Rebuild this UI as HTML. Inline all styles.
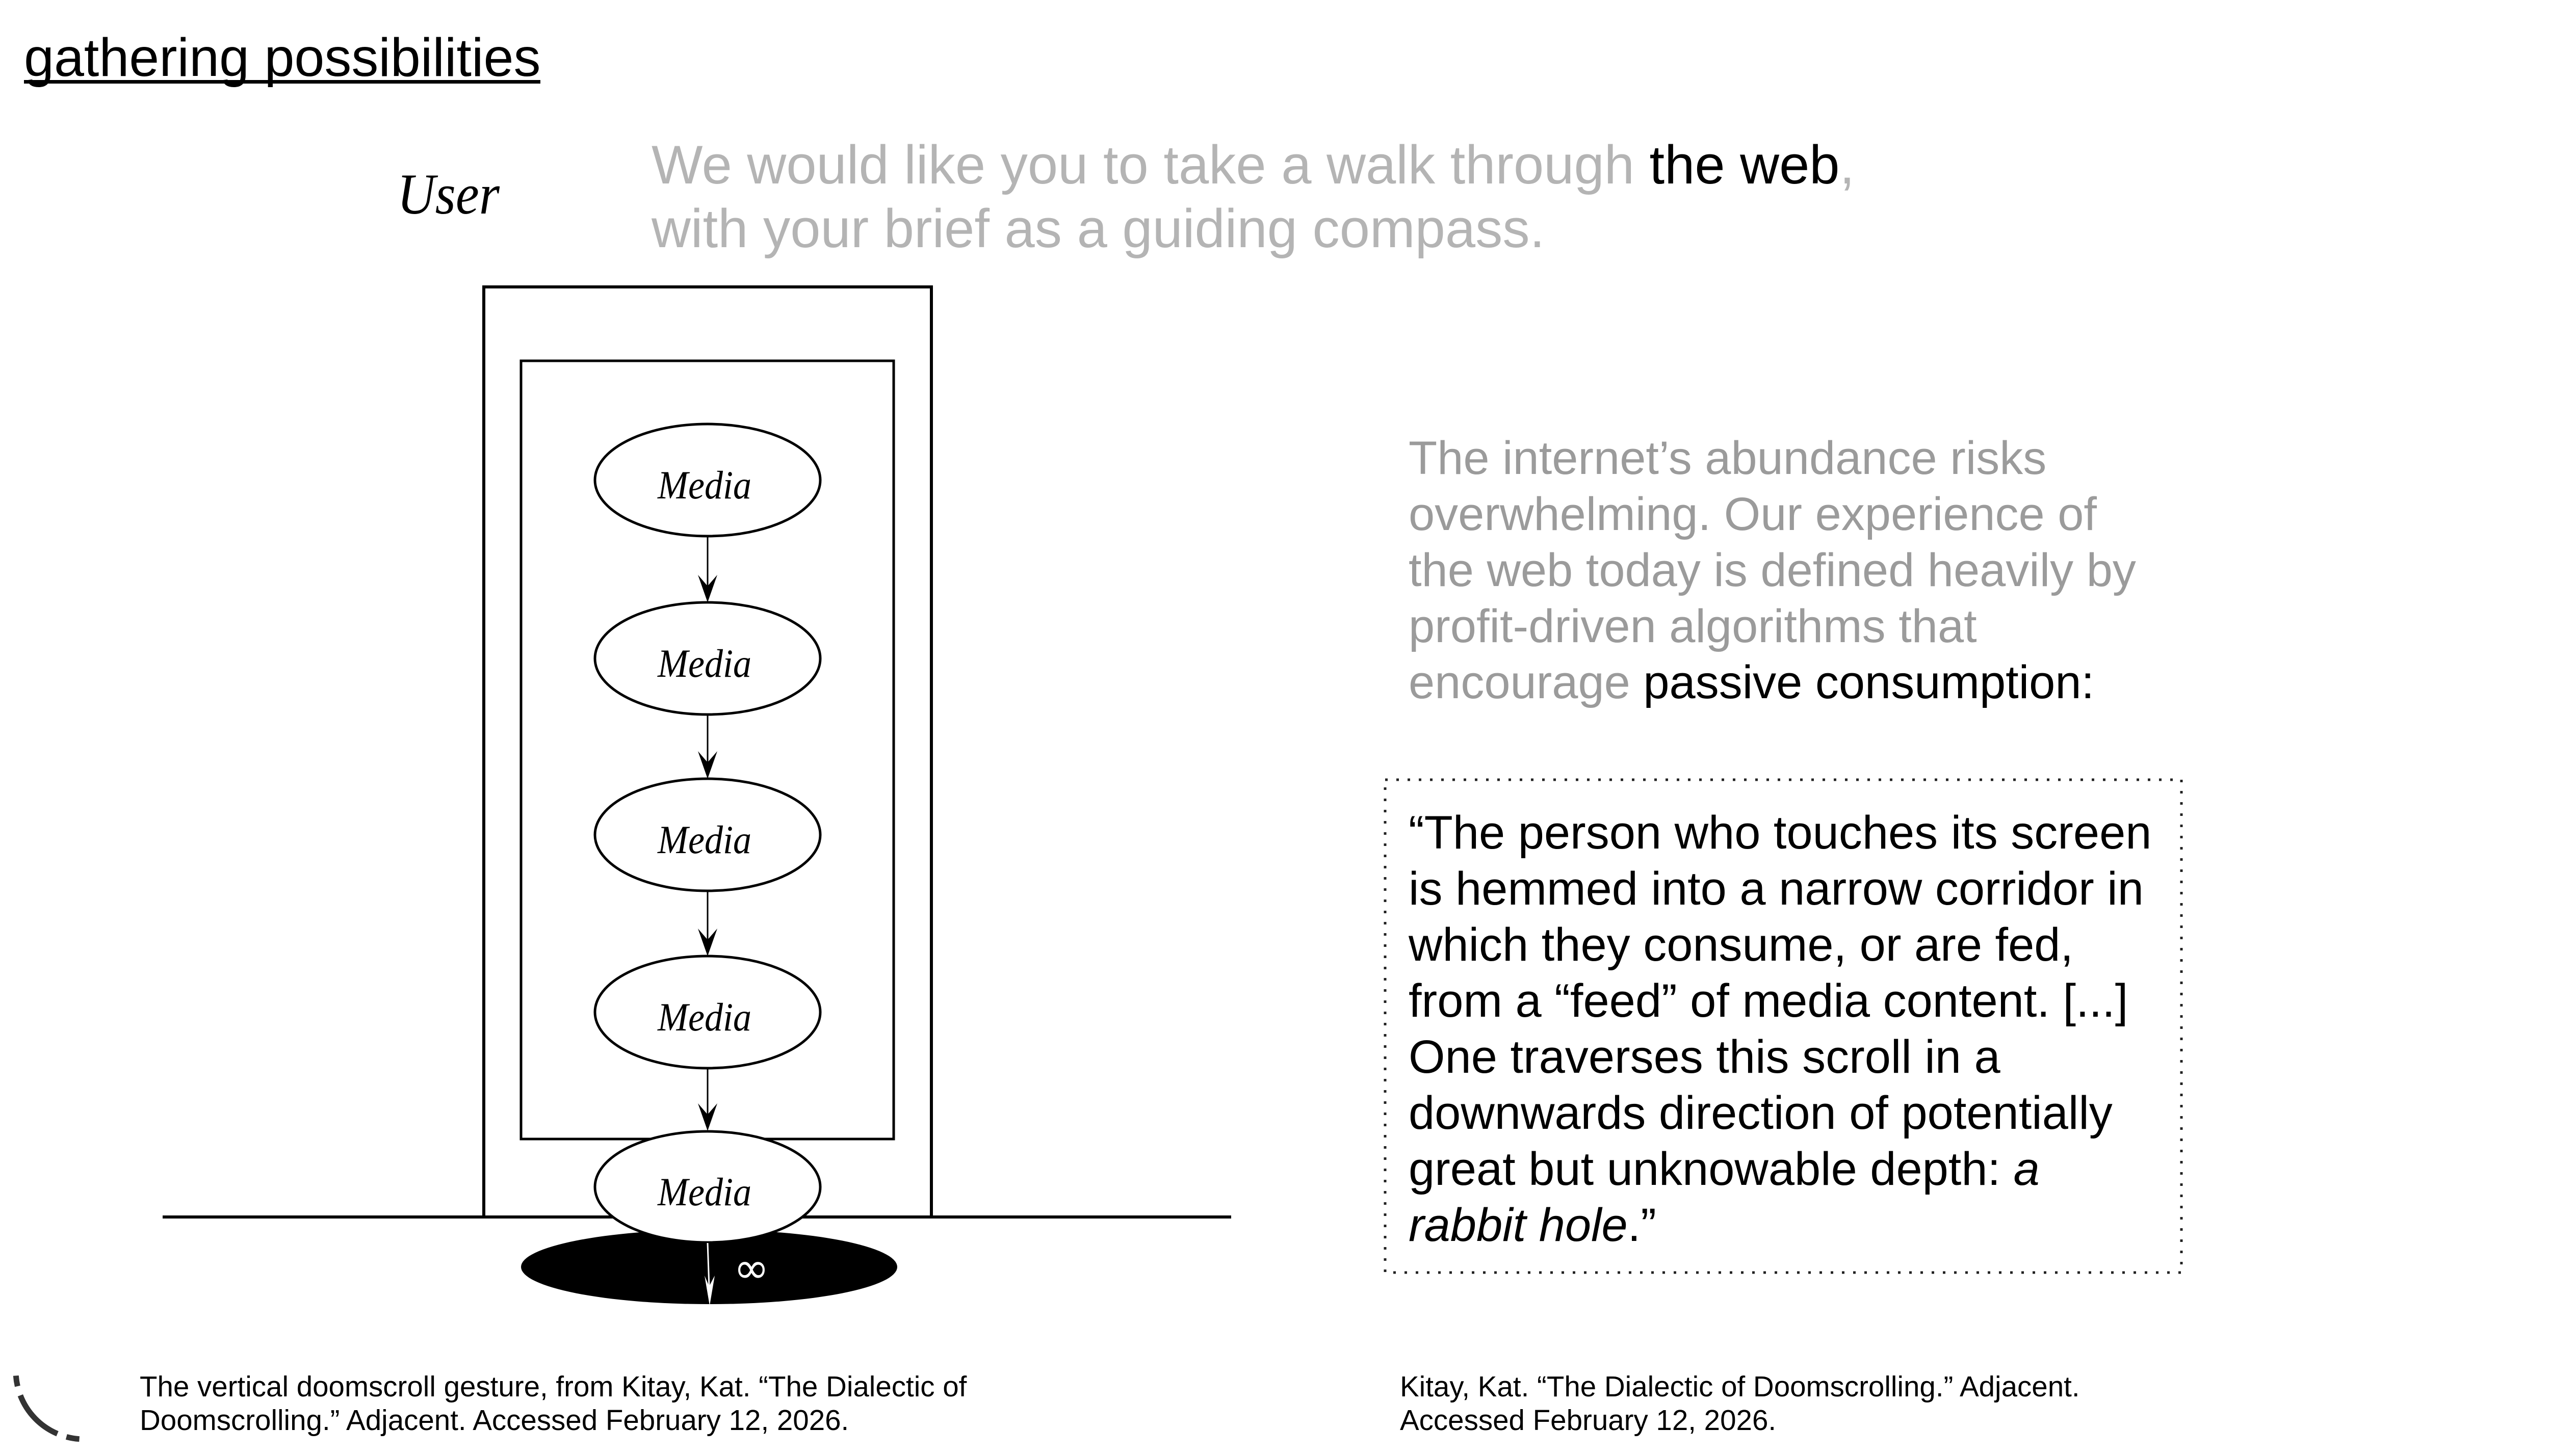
<!DOCTYPE html>
<html>
<head>
<meta charset="utf-8">
<style>
  html, body { margin: 0; padding: 0; background: #ffffff; }
  body { width: 5080px; height: 2857px; overflow: hidden; }
  svg { display: block; }
  .sans { font-family: "Liberation Sans", Arial, sans-serif; }
  .serif { font-family: "Liberation Serif", "Times New Roman", serif; }
</style>
</head>
<body>
<svg width="5080" height="2857" viewBox="0 0 5080 2857" xmlns="http://www.w3.org/2000/svg">
  <rect x="0" y="0" width="5080" height="2857" fill="#ffffff"/>

  <!-- Title -->
  <text class="sans" x="47" y="149" font-size="106" fill="#000">gathering possibilities</text>
  <rect x="47" y="157" width="1013" height="7" fill="#000"/>

  <!-- User label -->
  <text class="serif" x="779" y="419" font-size="113" font-style="italic" fill="#000" textLength="201" lengthAdjust="spacingAndGlyphs">User</text>

  <!-- Top paragraph -->
  <text class="sans" font-size="106.5" fill="#b4b4b4">
    <tspan x="1278" y="360">We would like you to take a walk through <tspan fill="#000">the web</tspan>,</tspan>
    <tspan x="1278" y="485">with your brief as a guiding compass.</tspan>
  </text>

  <!-- Diagram -->
  <g stroke="#000" fill="none">
    <!-- outer frame (open at bottom) -->
    <polyline points="949,2388 949,563 1827,563 1827,2388" stroke-width="6"/>
    <!-- inner frame -->
    <rect x="1022" y="708" width="731" height="1527" stroke-width="5"/>
    <!-- ground line -->
    <line x1="319" y1="2388" x2="2415" y2="2388" stroke-width="6"/>
  </g>

  <!-- black hole -->
  <ellipse cx="1391" cy="2486" rx="369" ry="73" fill="#000"/>

  <!-- arrows between media nodes -->
  <g stroke="#000" stroke-width="3">
    <line x1="1388" y1="1052" x2="1388" y2="1160"/>
    <line x1="1388" y1="1402" x2="1388" y2="1506"/>
    <line x1="1388" y1="1748" x2="1388" y2="1854"/>
    <line x1="1388" y1="2096" x2="1388" y2="2197"/>
  </g>
  <g fill="#000">
    <polygon points="1388,1182 1369,1128 1388,1150 1407,1128"/>
    <polygon points="1388,1528 1369,1474 1388,1496 1407,1474"/>
    <polygon points="1388,1876 1369,1822 1388,1844 1407,1822"/>
    <polygon points="1388,2219 1369,2165 1388,2187 1407,2165"/>
  </g>

  <!-- media nodes -->
  <g fill="#fff" stroke="#000" stroke-width="5">
    <ellipse cx="1388" cy="942" rx="221" ry="110"/>
    <ellipse cx="1388" cy="1292" rx="221" ry="110"/>
    <ellipse cx="1388" cy="1638" rx="221" ry="110"/>
    <ellipse cx="1388" cy="1986" rx="221" ry="110"/>
    <ellipse cx="1388" cy="2329" rx="221" ry="109"/>
  </g>
  <g class="serif" font-size="78" font-style="italic" fill="#000">
    <text x="1290" y="978" textLength="184" lengthAdjust="spacingAndGlyphs">Media</text>
    <text x="1290" y="1328" textLength="184" lengthAdjust="spacingAndGlyphs">Media</text>
    <text x="1290" y="1674" textLength="184" lengthAdjust="spacingAndGlyphs">Media</text>
    <text x="1290" y="2022" textLength="184" lengthAdjust="spacingAndGlyphs">Media</text>
    <text x="1290" y="2365" textLength="184" lengthAdjust="spacingAndGlyphs">Media</text>
  </g>

  <!-- white arrow into hole -->
  <line x1="1388" y1="2439" x2="1391" y2="2525" stroke="#fff" stroke-width="3"/>
  <polygon points="1392,2562 1382,2503 1391,2524 1402,2503" fill="#fff"/>
  <text x="1474" y="2517" font-family="DejaVu Sans, Liberation Sans, sans-serif" font-size="84" fill="#fff" text-anchor="middle">∞</text>

  <!-- Right paragraph -->
  <text class="sans" font-size="92" fill="#9b9b9b">
    <tspan x="2763" y="930">The internet’s abundance risks</tspan>
    <tspan x="2763" y="1040">overwhelming. Our experience of</tspan>
    <tspan x="2763" y="1150">the web today is defined heavily by</tspan>
    <tspan x="2763" y="1260">profit-driven algorithms that</tspan>
    <tspan x="2763" y="1370">encourage <tspan fill="#000">passive consumption:</tspan></tspan>
  </text>

  <!-- Dotted quote box -->
  <rect x="2717" y="1530" width="1562" height="967" fill="none" stroke="#222" stroke-width="5" stroke-dasharray="5 17"/>

  <text class="sans" font-size="92" fill="#000">
    <tspan x="2763" y="1665">“The person who touches its screen</tspan>
    <tspan x="2763" y="1775">is hemmed into a narrow corridor in</tspan>
    <tspan x="2763" y="1885">which they consume, or are fed,</tspan>
    <tspan x="2763" y="1995">from a “feed” of media content. [...]</tspan>
    <tspan x="2763" y="2105">One traverses this scroll in a</tspan>
    <tspan x="2763" y="2215">downwards direction of potentially</tspan>
    <tspan x="2763" y="2325">great but unknowable depth: <tspan font-style="italic">a</tspan></tspan>
    <tspan x="2763" y="2435"><tspan font-style="italic">rabbit hole</tspan>.”</tspan>
  </text>

  <!-- Captions -->
  <text class="sans" font-size="56.5" fill="#000">
    <tspan x="274" y="2740">The vertical doomscroll gesture, from Kitay, Kat. “The Dialectic of</tspan>
    <tspan x="274" y="2806">Doomscrolling.” Adjacent. Accessed February 12, 2026.</tspan>
  </text>
  <text class="sans" font-size="56.5" fill="#000">
    <tspan x="2746" y="2740">Kitay, Kat. “The Dialectic of Doomscrolling.” Adjacent.</tspan>
    <tspan x="2746" y="2806">Accessed February 12, 2026.</tspan>
  </text>

  <!-- dashed arc bottom-left -->
  <g fill="none" stroke="#333" stroke-width="11">
    <path d="M31.3,2699.4 A134,134 0 0 0 34.4,2720.1"/>
    <path d="M39.9,2738.0 A134,134 0 0 0 112.6,2813.3"/>
    <path d="M130.3,2819.4 A134,134 0 0 0 155.6,2823.7"/>
  </g>
</svg>
</body>
</html>
